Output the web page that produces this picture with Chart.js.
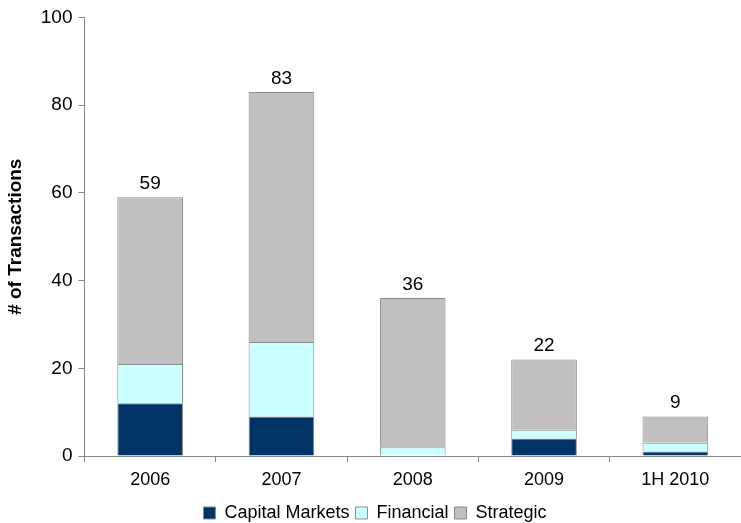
<!DOCTYPE html>
<html>
<head>
<meta charset="utf-8">
<script src="https://cdn.jsdelivr.net/npm/chart.js@4"></script>
<style>
  html, body { margin: 0; padding: 0; background: #fff; }
  #wrap { width: 741px; height: 523px; }
</style>
</head>
<body>
<div id="wrap"><canvas id="dealChart"></canvas></div>
<script>
const years = ['2006', '2007', '2008', '2009', '1H 2010'];
const capitalMarkets = [12, 9, 0, 4, 1];
const financial = [9, 17, 2, 2, 2];
const strategic = [38, 57, 34, 16, 6];
const totals = [59, 83, 36, 22, 9];

const font = 'Arial, "Liberation Sans", sans-serif';

// totals written above each stack
const totalLabels = {
  id: 'totalLabels',
  afterDatasetsDraw(chart) {
    const { ctx } = chart;
    const meta = chart.getDatasetMeta(chart.data.datasets.length - 1);
    ctx.save();
    ctx.font = '19px ' + font;
    ctx.fillStyle = '#000';
    ctx.textAlign = 'center';
    ctx.textBaseline = 'bottom';
    meta.data.forEach((bar, i) => {
      const y = chart.scales.y.getPixelForValue(totals[i]);
      ctx.fillText(String(totals[i]), bar.x, y - 4);
    });
    ctx.restore();
  },
};

const barStyle = {
  borderWidth: 1,
  borderColor: '#8c8c8c',
  barPercentage: 0.5,
  categoryPercentage: 1,
};

const ctx = document.getElementById('dealChart');
const dealChart = new Chart(ctx, {
  type: 'bar',
  data: {
    labels: years,
    datasets: [
      { label: 'Capital Markets', data: capitalMarkets, backgroundColor: '#003366', ...barStyle },
      { label: 'Financial', data: financial, backgroundColor: '#ccffff', ...barStyle },
      { label: 'Strategic', data: strategic, backgroundColor: '#c0c0c0', ...barStyle },
    ],
  },
  options: {
    responsive: true,
    maintainAspectRatio: false,
    animation: false,
    layout: { padding: { top: 10, right: -5, left: 4, bottom: -9 } },
    plugins: {
      legend: {
        position: 'bottom',
        labels: {
          boxWidth: 12,
          boxHeight: 12,
          padding: 6,
          color: '#000',
          font: { size: 18, family: font },
        },
      },
      tooltip: { enabled: false },
    },
    scales: {
      x: {
        stacked: true,
        grid: {
          offset: true,
          drawOnChartArea: false,
          drawTicks: true,
          tickLength: 6,
          color: '#888',
        },
        border: { display: true, color: '#888' },
        ticks: { color: '#000', font: { size: 18, family: font, lineHeight: 1 }, padding: 9 },
      },
      y: {
        stacked: true,
        min: 0,
        max: 100,
        grid: {
          drawOnChartArea: false,
          drawTicks: true,
          tickLength: 6,
          color: '#888',
        },
        border: { display: true, color: '#888' },
        ticks: { stepSize: 20, color: '#000', font: { size: 19, family: font }, padding: 6 },
        title: {
          display: true,
          text: '# of Transactions',
          color: '#000',
          font: { size: 19, weight: 'bold', family: font },
          padding: { top: 0, bottom: 8 },
        },
      },
    },
  },
  plugins: [totalLabels],
});
</script>
</body>
</html>
